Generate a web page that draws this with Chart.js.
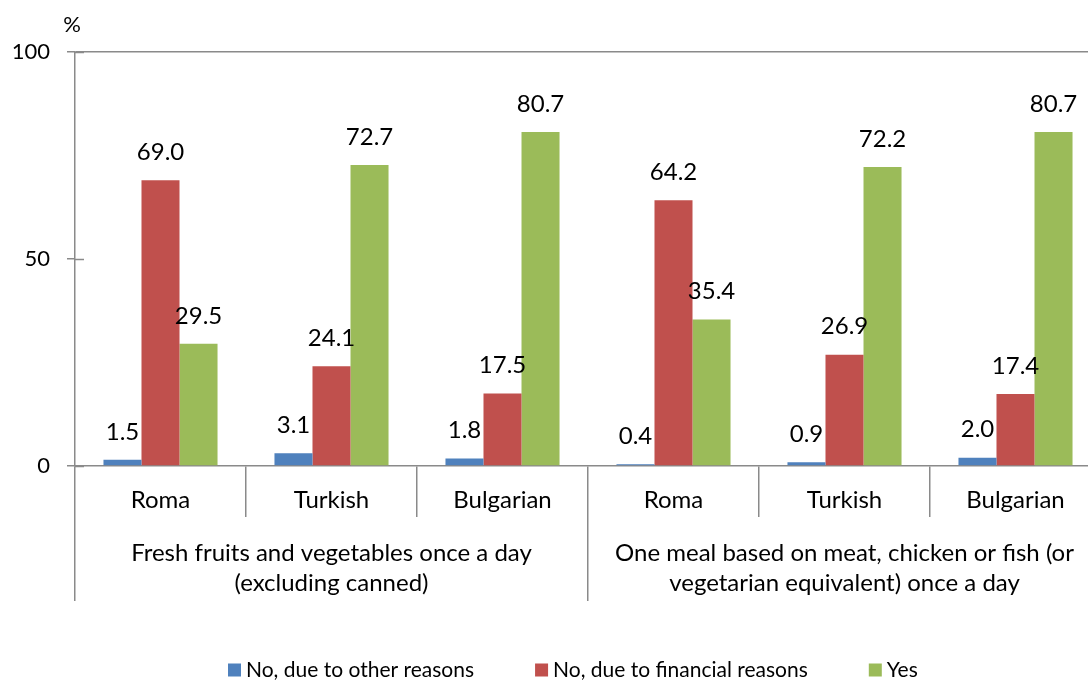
<!DOCTYPE html>
<html>
<head>
<meta charset="utf-8">
<script src="https://cdn.jsdelivr.net/npm/chart.js"></script>
<style>
  html, body { margin: 0; padding: 0; background: #fff; overflow: hidden; }
  #wrap { width: 1101px; height: 680px; }
</style>
</head>
<body>
<div id="wrap"><canvas id="chart" width="1101" height="680"></canvas></div>
<script>
// Data
const subCategories = ['Roma', 'Turkish', 'Bulgarian', 'Roma', 'Turkish', 'Bulgarian'];
const groupLabels = [
  ['Fresh fruits and vegetables once a day', '(excluding canned)'],
  ['One meal based on meat, chicken or fish (or', 'vegetarian equivalent) once a day']
];
const seriesNames = ['No, due to other reasons', 'No, due to financial reasons', 'Yes'];
const otherReasons = [1.5, 3.1, 1.8, 0.4, 0.9, 2.0];
const financialReasons = [69.0, 24.1, 17.5, 64.2, 26.9, 17.4];
const yesValues = [29.5, 72.7, 80.7, 35.4, 72.2, 80.7];
const yTickValues = [0, 50, 100];
const yUnit = '%';

const FONT = 'Lato, "DejaVu Sans", sans-serif';
const AXIS_GREY = '#8a8a8a';
const colors = ['#4F81BD', '#C0504D', '#9BBB59'];

// value labels above each bar
const valueLabels = {
  id: 'valueLabels',
  afterDatasetsDraw(chart) {
    const ctx = chart.ctx;
    ctx.save();
    ctx.font = '24px ' + FONT;
    ctx.fillStyle = '#000';
    ctx.textAlign = 'center';
    ctx.textBaseline = 'middle';
    chart.data.datasets.forEach((ds, i) => {
      chart.getDatasetMeta(i).data.forEach((bar, j) => {
        ctx.fillText(ds.data[j].toFixed(1), bar.x, bar.y - 28);
      });
    });
    ctx.restore();
  }
};

// unit label, inner tick stubs and legend
const extras = {
  id: 'extras',
  afterDraw(chart) {
    const ctx = chart.ctx;
    const area = chart.chartArea;
    const y = chart.scales.y;
    ctx.save();
    ctx.font = '22px ' + FONT;
    ctx.fillStyle = '#000';
    ctx.textAlign = 'center';
    ctx.textBaseline = 'middle';
    ctx.fillText(yUnit, area.left - 3, area.top - 27);

    ctx.strokeStyle = AXIS_GREY;
    ctx.lineWidth = 1.5;
    y.ticks.forEach(t => {
      const py = Math.round(y.getPixelForValue(t.value)) + 0.5;
      ctx.beginPath();
      ctx.moveTo(area.left, py);
      ctx.lineTo(area.left + 9, py);
      ctx.stroke();
    });

    // legend
    ctx.font = '21px ' + FONT;
    ctx.textAlign = 'left';
    let x = 228;
    const ly = 670;
    chart.data.datasets.forEach((ds) => {
      ctx.fillStyle = ds.backgroundColor;
      ctx.fillRect(x, ly - 6.5, 13, 13);
      ctx.fillStyle = '#000';
      ctx.fillText(ds.label, x + 18, ly);
      x += 18 + ctx.measureText(ds.label).width + 61;
    });
    ctx.restore();
  }
};

new Chart(document.getElementById('chart'), {
  type: 'bar',
  data: {
    labels: subCategories,
    datasets: [
      { label: seriesNames[0], data: otherReasons, backgroundColor: colors[0] },
      { label: seriesNames[1], data: financialReasons, backgroundColor: colors[1] },
      { label: seriesNames[2], data: yesValues, backgroundColor: colors[2] }
    ]
  },
  options: {
    responsive: false,
    animation: false,
    datasets: { bar: { categoryPercentage: 0.667, barPercentage: 1 } },
    layout: { padding: { top: 52, right: 0, bottom: 79, left: 0 } },
    plugins: { legend: { display: false }, tooltip: { enabled: false } },
    scales: {
      y: {
        min: 0,
        max: 100,
        afterBuildTicks: (s) => { s.ticks = yTickValues.map(v => ({ value: v })); },
        afterFit: (s) => { s.width = 75; },
        border: { color: AXIS_GREY, width: 1.5 },
        grid: {
          color: (c) => (c.tick && c.tick.value === 100 ? AXIS_GREY : 'rgba(0,0,0,0)'),
          lineWidth: 1.5,
          tickColor: AXIS_GREY,
          tickLength: 8
        },
        ticks: { color: '#000', font: { family: FONT, size: 22 }, padding: 17 }
      },
      x: {
        offset: true,
        afterFit: (s) => { s.height = 51; },
        border: { color: AXIS_GREY, width: 1.5 },
        grid: {
          offset: true,
          drawOnChartArea: false,
          color: AXIS_GREY,
          lineWidth: 1.5,
          tickLength: 51
        },
        ticks: {
          color: '#000',
          font: { family: FONT, size: 24 },
          padding: -31,
          maxRotation: 0,
          autoSkip: false
        }
      },
      x2: {
        type: 'category',
        labels: groupLabels,
        position: 'bottom',
        offset: true,
        afterFit: (s) => { s.height = 84; },
        border: { display: false },
        grid: {
          offset: true,
          drawOnChartArea: false,
          color: AXIS_GREY,
          lineWidth: 1.5,
          tickLength: 84
        },
        ticks: {
          color: '#000',
          font: { family: FONT, size: 24, lineHeight: 30 / 24 },
          padding: -63,
          maxRotation: 0,
          autoSkip: false
        }
      }
    }
  },
  plugins: [valueLabels, extras]
});
</script>
</body>
</html>
